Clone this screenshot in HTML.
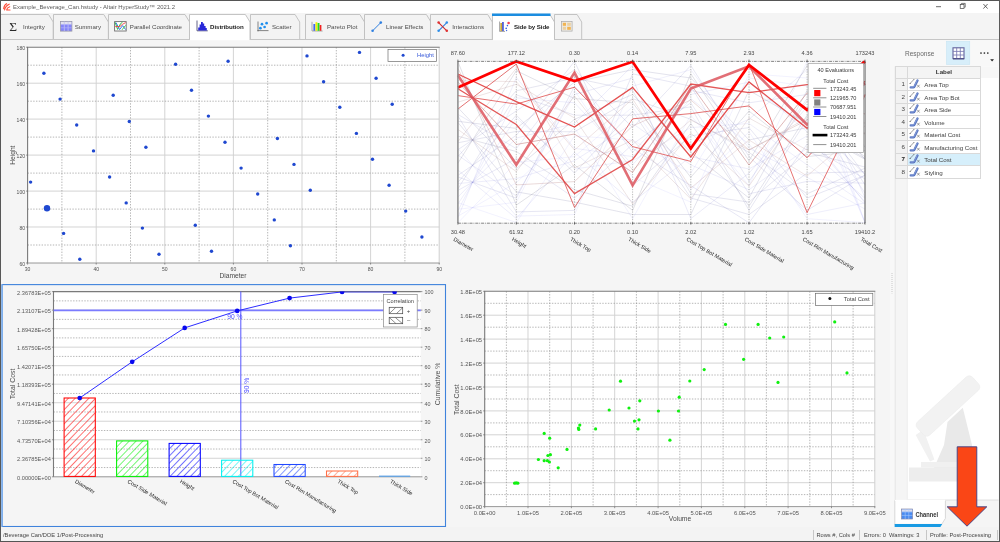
<!DOCTYPE html>
<html lang="en"><head><meta charset="utf-8">
<title>Example_Beverage_Can.hstudy - Altair HyperStudy 2021.2</title>
<style>
html,body{margin:0;padding:0;}
body{width:1000px;height:542px;overflow:hidden;background:#f5f5f5;font-family:"Liberation Sans","DejaVu Sans",sans-serif;font-size:6px;color:#3c3c3c;position:relative;}
.abs{position:absolute;}
#win{position:absolute;left:0;top:0;width:1000px;height:542px;overflow:hidden;background:#f5f5f5;will-change:transform;}
#titlebar{position:absolute;left:0;top:0;width:1000px;height:13px;background:#fff;}
#titlebar .ttl{position:absolute;left:13px;top:3px;font-size:5.95px;line-height:8px;color:#5c5c5c;white-space:nowrap;}
#tabbar{position:absolute;left:0;top:13px;width:1000px;height:26px;background:#f4f4f4;border-bottom:1px solid #c6c6c6;}
.tab{position:absolute;top:1px;height:25px;box-sizing:border-box;}
.tab svg.shape{position:absolute;left:-0.5px;top:0;}
.tab .lbl{position:absolute;top:8.8px;font-size:6.15px;line-height:8px;color:#4c4c4c;white-space:nowrap;}
.tab.act .lbl{font-weight:bold;color:#222;letter-spacing:-0.08px;}
.tab .ico{position:absolute;}
#status{position:absolute;left:0;top:527.4px;width:1000px;height:14.6px;background:#f3f3f3;box-sizing:border-box;}
#status span{position:absolute;top:3.3px;font-size:5.72px;line-height:8px;color:#444;white-space:nowrap;}
#status i{position:absolute;top:2.4px;width:1px;height:10.4px;background:#c6c6c6;}

svg text{font-family:"Liberation Sans","DejaVu Sans",sans-serif;}
#rpanel{position:absolute;left:893px;top:40px;width:107px;height:487px;}
table.resp{position:absolute;left:2px;top:26px;border-collapse:collapse;table-layout:fixed;width:86.1px;font-size:6.22px;color:#3a3a3a;}
table.resp td,table.resp th{border:1px solid #d9d9d9;height:11.5px;padding:0;line-height:8px;white-space:nowrap;overflow:visible;}
table.resp th{height:10.6px;}
table.resp th{background:#f4f4f4;font-weight:bold;color:#333;}
table.resp td.n{width:8.9px;text-align:right;padding-right:2px;background:#f2f2f2;color:#444;}
table.resp td.l{width:73.2px;text-align:left;background:#fff;position:relative;}
table.resp tr.sel td.l{background:#d6effb;}
table.resp tr.sel td.n{font-weight:bold;color:#222;}
table.resp td.l span{position:absolute;left:16.4px;top:2.5px;letter-spacing:-0.05px;color:#444;}
table.resp td.l svg{position:absolute;left:1.3px;top:0.6px;}
</style></head><body><div id="win">

<div id="titlebar">
<svg class="abs" style="left:2.6px;top:2.8px" width="8" height="8" viewBox="0 0 8 8"><path d="M0.7 5.6 C1.0 3.0 2.0 1.4 3.6 0.7 M1.6 7.0 C2.0 4.4 3.4 2.4 6.2 1.2 M3.6 7.0 C3.8 5.6 4.8 4.4 6.8 3.8 M4.4 7.0 H7.0" stroke="#ff4a36" stroke-width="1.15" fill="none" stroke-linecap="round"/></svg>
<div class="ttl">Example_Beverage_Can.hstudy - Altair HyperStudy&#8482; 2021.2</div>
<svg class="abs" style="left:925px;top:0" width="75" height="13" viewBox="0 0 75 13"><path d="M11 6.7 H16" stroke="#444" stroke-width="0.8"/><rect x="35.2" y="4.6" width="3.8" height="3.8" fill="none" stroke="#444" stroke-width="0.7"/><path d="M36.4 4.4 V3.4 H40.2 V7.2 H39.2" fill="none" stroke="#444" stroke-width="0.7"/><path d="M58.4 4 L62.6 8.6 M62.6 4 L58.4 8.6" stroke="#444" stroke-width="0.8"/></svg>
</div>
<div id="tabbar">
<div class="tab" style="left:0.8px;width:52.7px"><svg class="shape" width="54.7" height="26" viewBox="0 0 54.7 26" style="overflow:visible"><path d="M0.5 25 V0.5 H48.6 L53.2 8.0 V25 Z" fill="#f3f3f3" stroke="none"/><path d="M0.5 25 V0.5 H48.6 L53.2 8.0 V25" fill="none" stroke="#bdbdbd" stroke-width="0.9"/></svg><svg class="ico" style="left:8px;top:6.2px" width="11" height="13" viewBox="0 0 11 13"><text x="0.2" y="11" font-size="13.4" style="font-family:'Liberation Serif','DejaVu Serif',serif" fill="#2a2a2a">&#931;</text></svg>
<div class="lbl" style="left:22.2px">Integrity</div>
</div>
<div class="tab" style="left:53.5px;width:54.9px"><svg class="shape" width="56.9" height="26" viewBox="0 0 56.9 26" style="overflow:visible"><path d="M0.5 25 V0.5 H50.8 L55.4 8.0 V25 Z" fill="#f3f3f3" stroke="none"/><path d="M0.5 25 V0.5 H50.8 L55.4 8.0 V25" fill="none" stroke="#bdbdbd" stroke-width="0.9"/></svg><svg class="ico" style="left:6.4px;top:7.4px" width="13" height="11" viewBox="0 0 13 11"><rect x="0.5" y="0.5" width="11.4" height="9.6" fill="#8484fa" stroke="#9a9aa6" stroke-width="0.8"/><rect x="0.9" y="0.9" width="10.6" height="2.5" fill="#e2e2ee"/><path d="M4.3 0.6 V10 M8.1 0.6 V10" stroke="#c4c4f0" stroke-width="0.8"/><path d="M0.8 3.6 H11.6 M0.8 6.8 H11.6" stroke="#b4b4fa" stroke-width="0.7"/></svg>
<div class="lbl" style="left:21.2px">Summary</div>
</div>
<div class="tab" style="left:108.4px;width:81.1px"><svg class="shape" width="83.1" height="26" viewBox="0 0 83.1 26" style="overflow:visible"><path d="M0.5 25 V0.5 H77.0 L81.6 8.0 V25 Z" fill="#f3f3f3" stroke="none"/><path d="M0.5 25 V0.5 H77.0 L81.6 8.0 V25" fill="none" stroke="#bdbdbd" stroke-width="0.9"/></svg><svg class="ico" style="left:6px;top:6.8px" width="13" height="11" viewBox="0 0 13 11"><rect x="0.6" y="0.6" width="11.6" height="9.4" fill="#fff" stroke="#6e6e6e" stroke-width="0.9"/><path d="M1.2 1.4 L3.6 8.4 L6.6 2.6 L8.4 1.4" stroke="#30c040" stroke-width="1" fill="none"/><path d="M2 1.6 L5.6 8.6 L8.6 4.6 L11.6 8.6" stroke="#3a78e8" stroke-width="1" fill="none"/><path d="M1.2 5.6 H5.8 L8.4 3.4 L11.6 1.6" stroke="#f04040" stroke-width="0.9" fill="none"/><path d="M8 8.8 L11.6 4.4" stroke="#30c040" stroke-width="0.9" fill="none"/></svg>
<div class="lbl" style="left:21.4px">Parallel Coordinate</div>
</div>
<div class="tab act" style="left:189.5px;width:60.5px"><svg class="shape" width="62.5" height="26" viewBox="0 0 62.5 26" style="overflow:visible"><path d="M0.5 25 V0.5 H56.4 L61.0 8.0 V25 Z" fill="#ffffff" stroke="none"/><path d="M0.5 25 V0.5 H56.4 L61.0 8.0 V25" fill="none" stroke="#bdbdbd" stroke-width="0.9"/><path d="M1 25.5 H60.5" stroke="#ffffff" stroke-width="1.4"/></svg><svg class="ico" style="left:6px;top:6px" width="12" height="12" viewBox="0 0 12 12"><path d="M1 0.5 V10.8 H11.8" stroke="#3a3a6a" stroke-width="0.8" fill="none"/><path d="M2.2 10.4 V7.4 H3.6 V4.6 H5 V2 H6.8 V3.6 H8.2 V6 H9.6 V8 H10.8 V10.4 Z" fill="#2828d8"/></svg>
<div class="lbl" style="left:20.6px">Distribution</div>
</div>
<div class="tab" style="left:250.0px;width:49.2px"><svg class="shape" width="51.2" height="26" viewBox="0 0 51.2 26" style="overflow:visible"><path d="M0.5 25 V0.5 H45.1 L49.7 8.0 V25 Z" fill="#f3f3f3" stroke="none"/><path d="M0.5 25 V0.5 H45.1 L49.7 8.0 V25" fill="none" stroke="#bdbdbd" stroke-width="0.9"/></svg><svg class="ico" style="left:7px;top:6.5px" width="12" height="11" viewBox="0 0 12 11"><path d="M1 0.5 V10.4 M0.4 9.6 H11.5" stroke="#555" stroke-width="0.7" fill="none"/><circle cx="3.4" cy="7.2" r="1.35" fill="#1f8fee"/><circle cx="5" cy="3.2" r="1.35" fill="#1f8fee"/><circle cx="7.6" cy="6" r="1.35" fill="#1f8fee"/><circle cx="9.6" cy="2.2" r="1.35" fill="#1f8fee"/></svg>
<div class="lbl" style="left:22.0px">Scatter</div>
</div>
<div class="tab" style="left:305.2px;width:59.0px"><svg class="shape" width="61.0" height="26" viewBox="0 0 61.0 26" style="overflow:visible"><path d="M0.5 25 V0.5 H54.9 L59.5 8.0 V25 Z" fill="#f3f3f3" stroke="none"/><path d="M0.5 25 V0.5 H54.9 L59.5 8.0 V25" fill="none" stroke="#bdbdbd" stroke-width="0.9"/></svg><svg class="ico" style="left:6px;top:6.5px" width="13" height="11" viewBox="0 0 13 11"><path d="M1 0.8 V10 H11.6" stroke="#8a8a8a" stroke-width="0.7" fill="none"/><rect x="2.4" y="3" width="1.9" height="6.8" fill="#4466f0"/><rect x="4.5" y="1.2" width="1.9" height="8.6" fill="#f2f000"/><rect x="6.6" y="2" width="1.9" height="7.8" fill="#22dd22"/><rect x="8.7" y="4" width="1.7" height="5.8" fill="#f02222"/></svg>
<div class="lbl" style="left:21.8px">Pareto Plot</div>
</div>
<div class="tab" style="left:364.2px;width:66.5px"><svg class="shape" width="68.5" height="26" viewBox="0 0 68.5 26" style="overflow:visible"><path d="M0.5 25 V0.5 H62.4 L67.0 8.0 V25 Z" fill="#f3f3f3" stroke="none"/><path d="M0.5 25 V0.5 H62.4 L67.0 8.0 V25" fill="none" stroke="#bdbdbd" stroke-width="0.9"/></svg><svg class="ico" style="left:7px;top:6.5px" width="12" height="12" viewBox="0 0 12 12"><path d="M1.6 9.8 L9.8 1.6" stroke="#2f7fe0" stroke-width="1"/><circle cx="1.6" cy="9.8" r="1.3" fill="#2f7fe0"/><circle cx="9.8" cy="1.6" r="1.3" fill="#2f7fe0"/></svg>
<div class="lbl" style="left:21.8px">Linear Effects</div>
</div>
<div class="tab" style="left:430.7px;width:61.8px"><svg class="shape" width="63.8" height="26" viewBox="0 0 63.8 26" style="overflow:visible"><path d="M0.5 25 V0.5 H57.7 L62.3 8.0 V25 Z" fill="#f3f3f3" stroke="none"/><path d="M0.5 25 V0.5 H57.7 L62.3 8.0 V25" fill="none" stroke="#bdbdbd" stroke-width="0.9"/></svg><svg class="ico" style="left:6px;top:6.5px" width="12" height="12" viewBox="0 0 12 12"><path d="M1.6 9.8 L9.8 1.6" stroke="#2f7fe0" stroke-width="1.1"/><path d="M1.6 1.6 L9.8 9.8" stroke="#d02828" stroke-width="1.1"/><circle cx="1.6" cy="1.6" r="1.25" fill="#e03030"/><circle cx="9.8" cy="9.8" r="1.25" fill="#e03030"/><circle cx="1.6" cy="9.8" r="1.25" fill="#2f8fe8"/><circle cx="9.8" cy="1.6" r="1.25" fill="#2f8fe8"/></svg>
<div class="lbl" style="left:21.6px">Interactions</div>
</div>
<div class="tab act" style="left:492.5px;width:62.0px"><svg class="shape" width="64.0" height="26" viewBox="0 0 64.0 26" style="overflow:visible"><path d="M0.5 25 V0.5 H57.9 L62.5 8.0 V25 Z" fill="#ffffff" stroke="none"/><path d="M0.5 25 V0.5 H57.9 L62.5 8.0 V25" fill="none" stroke="#bdbdbd" stroke-width="0.9"/><path d="M1 25.5 H62.0" stroke="#ffffff" stroke-width="1.4"/><path d="M0 0.7 H58.5" stroke="#1b8de0" stroke-width="2.4"/></svg><svg class="ico" style="left:6.5px;top:6.5px" width="12" height="12" viewBox="0 0 12 12"><path d="M0.6 0.5 V10.4 H6" stroke="#666" stroke-width="0.6" fill="none"/><rect x="1.4" y="2" width="1.5" height="8" fill="#c8a020"/><rect x="3.2" y="1" width="1.5" height="9" fill="#3040d0"/><circle cx="7.2" cy="7.4" r="0.8" fill="#3060e0"/><circle cx="8.4" cy="4.6" r="0.8" fill="#3060e0"/><circle cx="7.6" cy="9.6" r="0.7" fill="#3060e0"/><circle cx="9.6" cy="2" r="1.3" fill="#f04050"/></svg>
<div class="lbl" style="left:21.4px">Side by Side</div>
</div>
<div class="tab" style="left:554.5px;width:27.2px"><svg class="shape" width="29.2" height="26" viewBox="0 0 29.2 26" style="overflow:visible"><path d="M0.5 25 V0.5 H23.1 L27.7 8.0 V25 Z" fill="#f3f3f3" stroke="none"/><path d="M0.5 25 V0.5 H23.1 L27.7 8.0 V25" fill="none" stroke="#bdbdbd" stroke-width="0.9"/></svg><svg class="ico" style="left:6px;top:6.5px" width="12" height="12" viewBox="0 0 12 12"><rect x="0.5" y="0.5" width="10.6" height="9.6" fill="#eeeae2" stroke="#a8a8a8" stroke-width="0.7"/><rect x="1.8" y="1.8" width="3.2" height="3" fill="#f2b450"/><rect x="6.2" y="1.8" width="3.6" height="3" fill="#ecd0a0"/><rect x="1.8" y="5.8" width="3.2" height="3" fill="#ecd0a0"/><rect x="6.2" y="5.8" width="3.6" height="3" fill="#f2b450"/></svg>
</div>
</div>
<svg class="abs" style="left:0;top:40px" width="448" height="244" viewBox="0 40 448 244">
<rect x="27.6" y="47.2" width="411.6" height="215.8" fill="#fff"/>
<path d="M96.2 47.2 V263.0 M27.6 83.2 H439.2 M164.8 47.2 V263.0 M27.6 119.1 H439.2 M233.4 47.2 V263.0 M27.6 155.1 H439.2 M302.0 47.2 V263.0 M27.6 191.1 H439.2 M370.6 47.2 V263.0 M27.6 227.0 H439.2" stroke="#d2d2d2" stroke-width="0.95" fill="none"/>
<path d="M61.9 47.2 V263.0 M27.6 65.2 H439.2 M130.5 47.2 V263.0 M27.6 101.2 H439.2 M199.1 47.2 V263.0 M27.6 137.1 H439.2 M267.7 47.2 V263.0 M27.6 173.1 H439.2 M336.3 47.2 V263.0 M27.6 209.1 H439.2 M404.9 47.2 V263.0 M27.6 245.0 H439.2" stroke="#858585" stroke-width="0.6" stroke-dasharray="1.4 1.4" fill="none"/>
<path d="M439.2 47.2 V263.0" stroke="#cfcfcf" stroke-width="1" fill="none"/>
<path d="M27.6 263.0 V47.2 H439.7" stroke="#7a7a7a" stroke-width="1.1" fill="none"/>
<path d="M27.6 263.0 H439.7" stroke="#8c8c8c" stroke-width="0.9" fill="none"/>
<path d="M26.0 47.2 H27.6 M27.6 263.0 V264.6 M26.0 83.2 H27.6 M96.2 263.0 V264.6 M26.0 119.1 H27.6 M164.8 263.0 V264.6 M26.0 155.1 H27.6 M233.4 263.0 V264.6 M26.0 191.1 H27.6 M302.0 263.0 V264.6 M26.0 227.0 H27.6 M370.6 263.0 V264.6 M26.0 263.0 H27.6 M439.2 263.0 V264.6" stroke="#555" stroke-width="0.6" fill="none"/>
<g font-size="5.05" fill="#505050">
<text x="25.0" y="49.7" text-anchor="end">180</text>
<text x="25.0" y="85.7" text-anchor="end">160</text>
<text x="25.0" y="121.6" text-anchor="end">140</text>
<text x="25.0" y="157.6" text-anchor="end">120</text>
<text x="25.0" y="193.6" text-anchor="end">100</text>
<text x="25.0" y="229.5" text-anchor="end">80</text>
<text x="25.0" y="265.5" text-anchor="end">60</text>
<text x="27.6" y="270.6" text-anchor="middle">30</text>
<text x="96.2" y="270.6" text-anchor="middle">40</text>
<text x="164.8" y="270.6" text-anchor="middle">50</text>
<text x="233.4" y="270.6" text-anchor="middle">60</text>
<text x="302.0" y="270.6" text-anchor="middle">70</text>
<text x="370.6" y="270.6" text-anchor="middle">80</text>
<text x="439.2" y="270.6" text-anchor="middle">90</text>
</g>
<text x="233" y="278" font-size="6.7" fill="#4a4a4a" text-anchor="middle">Diameter</text>
<text transform="translate(14.8 155.2) rotate(-90)" font-size="6.7" fill="#4a4a4a" text-anchor="middle">Height</text>
<g fill="#1f48d0">
<circle cx="43.9" cy="73.2" r="1.7"/>
<circle cx="60.1" cy="99.1" r="1.7"/>
<circle cx="76.7" cy="125.0" r="1.7"/>
<circle cx="93.5" cy="150.9" r="1.7"/>
<circle cx="113.2" cy="95.3" r="1.7"/>
<circle cx="129.3" cy="121.5" r="1.7"/>
<circle cx="145.9" cy="147.3" r="1.7"/>
<circle cx="175.6" cy="64.3" r="1.7"/>
<circle cx="191.5" cy="90.2" r="1.7"/>
<circle cx="208.4" cy="116.1" r="1.7"/>
<circle cx="225.0" cy="142.3" r="1.7"/>
<circle cx="228.1" cy="61.2" r="1.7"/>
<circle cx="30.6" cy="182.1" r="1.7"/>
<circle cx="63.6" cy="233.4" r="1.7"/>
<circle cx="79.8" cy="259.3" r="1.7"/>
<circle cx="109.6" cy="177.0" r="1.7"/>
<circle cx="126.2" cy="202.9" r="1.7"/>
<circle cx="142.4" cy="228.1" r="1.7"/>
<circle cx="159.0" cy="254.2" r="1.7"/>
<circle cx="195.3" cy="225.3" r="1.7"/>
<circle cx="211.5" cy="251.2" r="1.7"/>
<circle cx="241.1" cy="168.1" r="1.7"/>
<circle cx="257.7" cy="194.0" r="1.7"/>
<circle cx="274.3" cy="219.9" r="1.7"/>
<circle cx="290.4" cy="245.8" r="1.7"/>
<circle cx="294.0" cy="164.4" r="1.7"/>
<circle cx="310.3" cy="190.3" r="1.7"/>
<circle cx="277.4" cy="138.5" r="1.7"/>
<circle cx="307.0" cy="55.9" r="1.7"/>
<circle cx="323.6" cy="81.8" r="1.7"/>
<circle cx="339.8" cy="107.3" r="1.7"/>
<circle cx="356.4" cy="133.4" r="1.7"/>
<circle cx="372.5" cy="159.2" r="1.7"/>
<circle cx="359.5" cy="52.4" r="1.7"/>
<circle cx="376.1" cy="78.3" r="1.7"/>
<circle cx="392.2" cy="104.2" r="1.7"/>
<circle cx="405.7" cy="211.1" r="1.7"/>
<circle cx="389.1" cy="185.2" r="1.7"/>
<circle cx="421.9" cy="237.0" r="1.7"/>
<circle cx="47.0" cy="208.2" r="3.2"/>
</g>
<rect x="388" y="49.4" width="48.6" height="12" fill="#fff" stroke="#6e6e6e" stroke-width="0.7"/>
<circle cx="403.1" cy="55.2" r="1.5" fill="#1f48d0"/>
<text x="433.8" y="57.3" font-size="5.8" fill="#3456d8" text-anchor="end">Height</text>
</svg>
<svg class="abs" style="left:448px;top:40px" width="440" height="244" viewBox="448 40 440 244">
<rect x="457.9" y="61.4" width="407.1" height="161.4" fill="#fff"/>
<g>
<polyline points="457.9,202.7 516.3,222.5 574.5,135.9 632.6,140.0 690.8,173.1 749.0,78.0 807.1,86.2 865.0,222.7" fill="none" stroke="#4646eb" stroke-width="0.50" stroke-opacity="0.14"/>
<polyline points="457.9,209.3 516.3,202.3 574.5,90.4 632.6,177.3 690.8,202.1 749.0,73.8 807.1,78.0 865.0,222.4" fill="none" stroke="#4646ea" stroke-width="0.50" stroke-opacity="0.14"/>
<polyline points="457.9,222.8 516.3,162.4 574.5,156.6 632.6,106.9 690.8,189.7 749.0,131.8 807.1,218.7 865.0,222.6" fill="none" stroke="#4646eb" stroke-width="0.50" stroke-opacity="0.14"/>
<polyline points="457.9,216.2 516.3,182.7 574.5,127.6 632.6,218.7 690.8,115.2 749.0,185.6 807.1,61.4 865.0,222.6" fill="none" stroke="#4646eb" stroke-width="0.50" stroke-opacity="0.14"/>
<polyline points="457.9,170.0 516.3,218.5 574.5,152.4 632.6,202.1 690.8,156.6 749.0,169.0 807.1,135.9 865.0,201.9" fill="none" stroke="#5353d1" stroke-width="0.55" stroke-opacity="0.19"/>
<polyline points="457.9,217.4 516.3,77.6 574.5,148.3 632.6,156.6 690.8,94.5 749.0,82.1 807.1,131.8 865.0,202.9" fill="none" stroke="#5252d2" stroke-width="0.54" stroke-opacity="0.19"/>
<polyline points="457.9,176.9 516.3,198.2 574.5,86.2 632.6,148.3 690.8,185.6 749.0,222.8 807.1,144.2 865.0,179.0" fill="none" stroke="#6161b5" stroke-width="0.60" stroke-opacity="0.25"/>
<polyline points="457.9,210.8 516.3,97.8 574.5,102.8 632.6,164.9 690.8,98.6 749.0,144.2 807.1,214.5 865.0,202.9" fill="none" stroke="#5252d2" stroke-width="0.54" stroke-opacity="0.19"/>
<polyline points="457.9,183.5 516.3,178.6 574.5,160.7 632.6,123.5 690.8,164.9 749.0,189.7 807.1,148.3 865.0,198.3" fill="none" stroke="#5555cd" stroke-width="0.55" stroke-opacity="0.20"/>
<polyline points="457.9,203.9 516.3,117.9 574.5,169.0 632.6,160.7 690.8,127.6 749.0,123.5 807.1,164.9 865.0,204.0" fill="none" stroke="#5252d4" stroke-width="0.54" stroke-opacity="0.18"/>
<polyline points="457.9,190.4 516.3,158.4 574.5,198.0 632.6,144.2 690.8,102.8 749.0,193.8 807.1,181.4 865.0,183.2" fill="none" stroke="#5f5fba" stroke-width="0.59" stroke-opacity="0.24"/>
<polyline points="457.9,197.0 516.3,138.1 574.5,123.5 632.6,65.5 690.8,144.2 749.0,119.3 807.1,69.7 865.0,197.6" fill="none" stroke="#5656cc" stroke-width="0.55" stroke-opacity="0.20"/>
<polyline points="457.9,148.4 516.3,216.1 574.5,214.5 632.6,86.2 690.8,69.7 749.0,148.3 807.1,177.3 865.0,209.1" fill="none" stroke="#4e4eda" stroke-width="0.53" stroke-opacity="0.17"/>
<polyline points="457.9,155.1 516.3,196.0 574.5,94.5 632.6,78.0 690.8,218.7 749.0,173.1 807.1,106.9 865.0,193.0" fill="none" stroke="#5858c6" stroke-width="0.56" stroke-opacity="0.21"/>
<polyline points="457.9,188.9 516.3,94.8 574.5,115.2 632.6,115.2 690.8,106.9 749.0,210.4 807.1,119.3 865.0,174.2" fill="none" stroke="#6464af" stroke-width="0.61" stroke-opacity="0.26"/>
<polyline points="457.9,175.4 516.3,135.3 574.5,61.4 632.6,185.6 690.8,135.9 749.0,127.6 807.1,198.0 865.0,175.4" fill="none" stroke="#6363b0" stroke-width="0.60" stroke-opacity="0.26"/>
<polyline points="457.9,182.3 516.3,115.2 574.5,173.1 632.6,111.1 690.8,198.0 749.0,214.5 807.1,173.1 865.0,171.7" fill="none" stroke="#6666ac" stroke-width="0.61" stroke-opacity="0.27"/>
<polyline points="457.9,115.9 516.3,211.9 574.5,210.4 632.6,73.8 690.8,86.2 749.0,181.4 807.1,98.6 865.0,175.0" fill="none" stroke="#6464b0" stroke-width="0.60" stroke-opacity="0.26"/>
<polyline points="457.9,122.5 516.3,191.8 574.5,202.1 632.6,214.5 690.8,214.5 749.0,90.4 807.1,123.5 865.0,158.4" fill="none" stroke="#6e6e9b" stroke-width="0.64" stroke-opacity="0.30"/>
<polyline points="457.9,136.2 516.3,151.5 574.5,189.7 632.6,206.2 690.8,123.5 749.0,206.2 807.1,115.2 865.0,156.7" fill="none" stroke="#6f6f99" stroke-width="0.64" stroke-opacity="0.31"/>
<polyline points="457.9,142.8 516.3,131.4 574.5,131.8 632.6,98.6 690.8,119.3 749.0,152.4 807.1,193.8 865.0,168.2" fill="none" stroke="#6868a7" stroke-width="0.62" stroke-opacity="0.28"/>
<polyline points="457.9,149.7 516.3,111.0 574.5,69.7 632.6,127.6 690.8,65.5 749.0,156.6 807.1,210.4 865.0,175.0" fill="none" stroke="#6464b0" stroke-width="0.60" stroke-opacity="0.26"/>
<polyline points="457.9,156.6 516.3,90.8 574.5,78.0 632.6,90.4 690.8,193.8 749.0,202.1 807.1,152.4 865.0,167.0" fill="none" stroke="#6969a6" stroke-width="0.62" stroke-opacity="0.28"/>
<polyline points="457.9,163.2 516.3,70.7 574.5,98.6 632.6,102.8 690.8,177.3 749.0,111.1 807.1,156.6 865.0,150.4" fill="none" stroke="#737391" stroke-width="0.66" stroke-opacity="0.32"/>
<polyline points="457.9,107.7 516.3,168.7 574.5,119.3 632.6,94.5 690.8,152.4 749.0,198.0 807.1,90.4 865.0,159.3" fill="none" stroke="#6d6d9c" stroke-width="0.64" stroke-opacity="0.30"/>
<polyline points="457.9,114.4 516.3,148.6 574.5,73.8 632.6,152.4 690.8,90.4 749.0,102.8 807.1,94.5 865.0,184.9" fill="none" stroke="#5d5dbc" stroke-width="0.58" stroke-opacity="0.23"/>
<polyline points="457.9,121.3 516.3,128.4 574.5,82.1 632.6,69.7 690.8,78.0 749.0,140.0 807.1,127.6 865.0,159.3" fill="none" stroke="#6d6d9c" stroke-width="0.64" stroke-opacity="0.30"/>
<polyline points="457.9,61.7 516.3,205.1 574.5,164.9 632.6,210.4 690.8,73.8 749.0,160.7 807.1,65.5 865.0,147.2" fill="none" stroke="#75758d" stroke-width="0.66" stroke-opacity="0.33"/>
</g>
<path d="M516.3 61.4 V222.8 M574.5 61.4 V222.8 M632.6 61.4 V222.8 M690.8 61.4 V222.8 M749.0 61.4 V222.8 M807.1 61.4 V222.8" stroke="#7a7a7a" stroke-width="0.5" stroke-dasharray="1.3 1.2" fill="none"/>
<g>
<polyline points="457.9,129.4 516.3,171.6 574.5,96.0 632.6,170.0 690.8,120.0 749.0,150.0 807.1,118.0 865.0,133.2" fill="none" stroke="#b89090" stroke-width="0.6" stroke-opacity="0.42" stroke-linejoin="miter"/>
<polyline points="457.9,141.6 516.3,68.3 574.5,168.0 632.6,140.0 690.8,199.0 749.0,118.0 807.1,150.0 865.0,133.0" fill="none" stroke="#b89090" stroke-width="0.6" stroke-opacity="0.42" stroke-linejoin="miter"/>
<polyline points="457.9,68.4 516.3,184.9 574.5,181.6 632.6,126.0 690.8,100.0 749.0,150.0 807.1,120.0 865.0,123.0" fill="none" stroke="#b88484" stroke-width="0.6" stroke-opacity="0.5" stroke-linejoin="miter"/>
<polyline points="457.9,102.2 516.3,84.3 574.5,118.0 632.6,204.0 690.8,133.0 749.0,186.0 807.1,101.0 865.0,134.2" fill="none" stroke="#b89090" stroke-width="0.6" stroke-opacity="0.42" stroke-linejoin="miter"/>
<polyline points="457.9,80.6 516.3,81.6 574.5,150.0 632.6,99.0 690.8,188.0 749.0,140.0 807.1,176.0 865.0,125.9" fill="none" stroke="#c09090" stroke-width="0.6" stroke-opacity="0.42" stroke-linejoin="miter"/>
<polyline points="457.9,82.1 516.3,144.5 574.5,134.0 632.6,172.4 690.8,84.4 749.0,165.0 807.1,93.0 865.0,114.0" fill="none" stroke="#b86464" stroke-width="0.65" stroke-opacity="0.7" stroke-linejoin="miter"/>
<polyline points="457.9,95.6 516.3,104.1 574.5,87.2 632.6,146.6 690.8,161.4 749.0,63.5 807.1,212.6 865.0,95.3" fill="none" stroke="#dc3a3a" stroke-width="0.85" stroke-opacity="0.85" stroke-linejoin="miter"/>
<polyline points="457.9,109.1 516.3,64.1 574.5,207.4 632.6,118.8 690.8,113.6 749.0,105.9 807.1,157.7 865.0,94.4" fill="none" stroke="#d83a3a" stroke-width="0.85" stroke-opacity="0.85" stroke-linejoin="miter"/>
<polyline points="457.9,88.7 516.3,124.5 574.5,193.6 632.6,159.5 690.8,84.0 749.0,92.6 807.1,84.6 865.0,83.3" fill="none" stroke="#de3c3c" stroke-width="1.3" stroke-opacity="0.86" stroke-linejoin="miter"/>
<polyline points="457.9,74.0 516.3,101.7 574.5,127.0 632.6,87.4 690.8,157.0 749.0,81.9 807.1,128.3 865.0,81.2" fill="none" stroke="#e03838" stroke-width="1.3" stroke-opacity="0.88" stroke-linejoin="miter"/>
<polyline points="457.9,75.3 516.3,164.8 574.5,72.6 632.6,185.4 690.8,88.6 749.0,66.2 807.1,124.7 865.0,83.3" fill="none" stroke="#dc545c" stroke-width="2.65" stroke-opacity="0.84" stroke-linejoin="miter"/>
<polyline points="457.9,87.4 516.3,61.4 574.5,81.0 632.6,61.8 690.8,148.6 749.0,64.9 807.1,109.9 865.0,61.4" fill="none" stroke="#ff0000" stroke-width="2.75" stroke-opacity="1.0" stroke-linejoin="miter"/>
</g>
<path d="M457.9 61.4 V222.8" stroke="#8a8a8a" stroke-width="1.5" fill="none"/>
<path d="M865.0 61.4 V222.8" stroke="#555" stroke-width="1" fill="none"/>
<path d="M457.9 61.4 H865.0 M457.9 223.20000000000002 H865.0" stroke="#555" stroke-width="0.7" stroke-dasharray="3 1 0.8 1" fill="none"/>
<path d="M457.9 59.6 V61.9 M457.9 222.3 V224.60000000000002 M516.3 59.6 V61.9 M516.3 222.3 V224.60000000000002 M574.5 59.6 V61.9 M574.5 222.3 V224.60000000000002 M632.6 59.6 V61.9 M632.6 222.3 V224.60000000000002 M690.8 59.6 V61.9 M690.8 222.3 V224.60000000000002 M749.0 59.6 V61.9 M749.0 222.3 V224.60000000000002 M807.1 59.6 V61.9 M807.1 222.3 V224.60000000000002 M865.0 59.6 V61.9 M865.0 222.3 V224.60000000000002" stroke="#444" stroke-width="0.7" fill="none"/>
<g font-size="5.65" fill="#444" text-anchor="middle">
<text x="457.9" y="54.8">87.60</text>
<text x="457.9" y="233.5">30.48</text>
<text x="516.3" y="54.8">177.12</text>
<text x="516.3" y="233.5">61.92</text>
<text x="574.5" y="54.8">0.30</text>
<text x="574.5" y="233.5">0.20</text>
<text x="632.6" y="54.8">0.14</text>
<text x="632.6" y="233.5">0.10</text>
<text x="690.8" y="54.8">7.95</text>
<text x="690.8" y="233.5">2.02</text>
<text x="749.0" y="54.8">2.93</text>
<text x="749.0" y="233.5">1.02</text>
<text x="807.1" y="54.8">4.36</text>
<text x="807.1" y="233.5">1.65</text>
<text x="865.0" y="54.8">173243</text>
<text x="865.0" y="233.5">19410.2</text>
</g>
<g font-size="5.45" fill="#222">
<text transform="translate(453.1 240.3) rotate(30.5)">Diameter</text>
<text transform="translate(511.5 240.3) rotate(30.5)">Height</text>
<text transform="translate(569.7 240.3) rotate(30.5)">Thick Top</text>
<text transform="translate(627.8 240.3) rotate(30.5)">Thick Side</text>
<text transform="translate(686.0 240.3) rotate(30.5)">Cost Top Bot Material</text>
<text transform="translate(744.2 240.3) rotate(30.5)">Cost Side Material</text>
<text transform="translate(802.3 240.3) rotate(30.5)">Cost Rim Manufacturing</text>
<text transform="translate(860.2 240.3) rotate(30.5)">Total Cost</text>
</g>

<rect x="808.1" y="63.3" width="55.4" height="89.3" fill="#fff" stroke="#9a9a9a" stroke-width="0.7"/>
<g font-size="5.6" fill="#3a3a3a">
<text x="835.8" y="71.9" text-anchor="middle">40 Evaluations</text>
<text x="835.8" y="82.5" text-anchor="middle">Total Cost</text>
<text x="835.8" y="128.7" text-anchor="middle">Total Cost</text>
<text x="830" y="90.6">173243.45</text>
<text x="830" y="100.1">121965.70</text>
<text x="830" y="109.3">70687.951</text>
<text x="830" y="118.7">19410.201</text>
<text x="830" y="137.0">173243.45</text>
<text x="830" y="146.5">19410.201</text>
</g>
<path d="M813.2 88.3 H826.4 M813.2 97.8 H826.4 M813.2 107 H826.4 M813.2 116.5 H826.4" stroke="#333" stroke-width="0.55"/>
<rect x="814.2" y="90" width="6.2" height="6.2" fill="#ff0000"/>
<rect x="814.2" y="99.4" width="6.2" height="6.2" fill="#808080"/>
<rect x="814.2" y="108.9" width="6.2" height="6.2" fill="#0000ff"/>
<path d="M812.6 135.1 H827.4" stroke="#000" stroke-width="2.6"/>
<path d="M813.2 144.6 H826.4" stroke="#333" stroke-width="0.55"/>
</svg>
<svg class="abs" style="left:0;top:284px" width="450" height="243" viewBox="0 284 450 243">
<defs>
<pattern id="h0" width="4.9" height="4.9" patternUnits="userSpaceOnUse" patternTransform="rotate(-46)"><path d="M0 2.45 H4.9" stroke="#ff0000" stroke-width="0.55"/></pattern>
<pattern id="h1" width="4.9" height="4.9" patternUnits="userSpaceOnUse" patternTransform="rotate(-46)"><path d="M0 2.45 H4.9" stroke="#00f000" stroke-width="0.55"/></pattern>
<pattern id="h2" width="4.9" height="4.9" patternUnits="userSpaceOnUse" patternTransform="rotate(-46)"><path d="M0 2.45 H4.9" stroke="#0000ff" stroke-width="0.55"/></pattern>
<pattern id="h3" width="4.9" height="4.9" patternUnits="userSpaceOnUse" patternTransform="rotate(-46)"><path d="M0 2.45 H4.9" stroke="#00f0f0" stroke-width="0.55"/></pattern>
<pattern id="h4" width="4.9" height="4.9" patternUnits="userSpaceOnUse" patternTransform="rotate(-46)"><path d="M0 2.45 H4.9" stroke="#2048ff" stroke-width="0.55"/></pattern>
<pattern id="h5" width="4.9" height="4.9" patternUnits="userSpaceOnUse" patternTransform="rotate(-46)"><path d="M0 2.45 H4.9" stroke="#ff7048" stroke-width="0.55"/></pattern>
<pattern id="h6" width="4.9" height="4.9" patternUnits="userSpaceOnUse" patternTransform="rotate(-46)"><path d="M0 2.45 H4.9" stroke="#58a0e8" stroke-width="0.55"/></pattern>
<clipPath id="pc"><rect x="53.5" y="291.6" width="367.3" height="188.2"/></clipPath>
</defs>
<rect x="2.1" y="284.6" width="443.4" height="241.9" fill="#f5f5f5" stroke="#3f83dc" stroke-width="1.1"/>
<path d="M2.1 284.6 V526.5" stroke="#7fb0ee" stroke-width="1.3" fill="none"/>
<rect x="53.5" y="291.6" width="367.3" height="185.2" fill="#fff"/>
<path d="M53.5 310.12 H420.8 M53.5 328.64 H420.8 M53.5 347.16 H420.8 M53.5 365.68 H420.8 M53.5 384.20 H420.8 M53.5 402.72 H420.8 M53.5 421.24 H420.8 M53.5 439.76 H420.8 M53.5 458.28 H420.8" stroke="#d2d2d2" stroke-width="0.95" fill="none"/>
<path d="M53.5 300.86 H420.8 M53.5 319.38 H420.8 M53.5 337.90 H420.8 M53.5 356.42 H420.8 M53.5 374.94 H420.8 M53.5 393.46 H420.8 M53.5 411.98 H420.8 M53.5 430.50 H420.8 M53.5 449.02 H420.8 M53.5 467.54 H420.8" stroke="#858585" stroke-width="0.6" stroke-dasharray="1.4 1.4" fill="none"/>
<path d="M53.5 476.8 V291.6 H420.8" stroke="#7a7a7a" stroke-width="1.1" fill="none"/>
<path d="M53.5 476.8 H420.8" stroke="#8a8a8a" stroke-width="0.9" fill="none"/>
<path d="M51.9 291.60 H53.5 M420.8 291.60 H422.40000000000003 M51.9 310.12 H53.5 M420.8 310.12 H422.40000000000003 M51.9 328.64 H53.5 M420.8 328.64 H422.40000000000003 M51.9 347.16 H53.5 M420.8 347.16 H422.40000000000003 M51.9 365.68 H53.5 M420.8 365.68 H422.40000000000003 M51.9 384.20 H53.5 M420.8 384.20 H422.40000000000003 M51.9 402.72 H53.5 M420.8 402.72 H422.40000000000003 M51.9 421.24 H53.5 M420.8 421.24 H422.40000000000003 M51.9 439.76 H53.5 M420.8 439.76 H422.40000000000003 M51.9 458.28 H53.5 M420.8 458.28 H422.40000000000003 M51.9 476.80 H53.5 M420.8 476.80 H422.40000000000003" stroke="#555" stroke-width="0.6" fill="none"/>
<path d="M53.5 310.3 H420.8" stroke="#7b7bff" stroke-width="1.7" fill="none"/>
<path d="M240.8 291.6 V476.8" stroke="#5c5cff" stroke-width="1.05" fill="none"/>
<rect x="64.1" y="398.0" width="31.2" height="78.4" fill="url(#h0)" stroke="#ff0000" stroke-width="1.05"/>
<rect x="116.6" y="440.9" width="31.2" height="35.5" fill="url(#h1)" stroke="#00f000" stroke-width="1.05"/>
<rect x="169.1" y="443.4" width="31.2" height="33.0" fill="url(#h2)" stroke="#0000ff" stroke-width="1.05"/>
<rect x="221.6" y="460.2" width="31.2" height="16.2" fill="url(#h3)" stroke="#00f0f0" stroke-width="1.05"/>
<rect x="274.0" y="464.5" width="31.2" height="11.9" fill="url(#h4)" stroke="#2048ff" stroke-width="1.05"/>
<rect x="326.5" y="471.0" width="31.2" height="5.4" fill="url(#h5)" stroke="#ff7048" stroke-width="1.05"/>
<path d="M379.0 476.2 H410.2" stroke="#58a0e8" stroke-width="1.2"/>
<g clip-path="url(#pc)">
<polyline points="79.7,398.0 132.2,361.8 184.7,327.9 237.2,310.9 289.6,298.1 342.1,291.9 394.6,291.9" fill="none" stroke="#2222ff" stroke-width="0.95"/>
<circle cx="79.7" cy="398.0" r="2.35" fill="#0808f0"/>
<circle cx="132.2" cy="361.8" r="2.35" fill="#0808f0"/>
<circle cx="184.7" cy="327.9" r="2.35" fill="#0808f0"/>
<circle cx="237.2" cy="310.9" r="2.35" fill="#0808f0"/>
<circle cx="289.6" cy="298.1" r="2.35" fill="#0808f0"/>
<circle cx="342.1" cy="291.9" r="2.35" fill="#0808f0"/>
<circle cx="394.6" cy="291.9" r="2.35" fill="#0808f0"/>
</g>
<text x="227.2" y="318.9" font-size="6.7" fill="#4a4aff">90 %</text>
<text transform="translate(249.4 385.4) rotate(-90)" font-size="6.7" fill="#4a4aff" text-anchor="middle">90 %</text>
<g font-size="5.7" fill="#585858">
<text x="50.9" y="294.6" text-anchor="end" textLength="33.8" lengthAdjust="spacingAndGlyphs">2.36783E+05</text>
<text x="50.9" y="313.1" text-anchor="end" textLength="33.8" lengthAdjust="spacingAndGlyphs">2.13107E+05</text>
<text x="50.9" y="331.6" text-anchor="end" textLength="33.8" lengthAdjust="spacingAndGlyphs">1.89428E+05</text>
<text x="50.9" y="350.2" text-anchor="end" textLength="33.8" lengthAdjust="spacingAndGlyphs">1.65750E+05</text>
<text x="50.9" y="368.7" text-anchor="end" textLength="33.8" lengthAdjust="spacingAndGlyphs">1.42071E+05</text>
<text x="50.9" y="387.2" text-anchor="end" textLength="33.8" lengthAdjust="spacingAndGlyphs">1.18393E+05</text>
<text x="50.9" y="405.7" text-anchor="end" textLength="33.8" lengthAdjust="spacingAndGlyphs">9.47141E+04</text>
<text x="50.9" y="424.2" text-anchor="end" textLength="33.8" lengthAdjust="spacingAndGlyphs">7.10356E+04</text>
<text x="50.9" y="442.8" text-anchor="end" textLength="33.8" lengthAdjust="spacingAndGlyphs">4.73570E+04</text>
<text x="50.9" y="461.3" text-anchor="end" textLength="33.8" lengthAdjust="spacingAndGlyphs">2.36785E+04</text>
<text x="50.9" y="479.8" text-anchor="end" textLength="33.8" lengthAdjust="spacingAndGlyphs">0.00000E+00</text>
<text x="424.6" y="294.4" font-size="5.4">100</text>
<text x="424.6" y="312.9" font-size="5.4">90</text>
<text x="424.6" y="331.4" font-size="5.4">80</text>
<text x="424.6" y="350.0" font-size="5.4">70</text>
<text x="424.6" y="368.5" font-size="5.4">60</text>
<text x="424.6" y="387.0" font-size="5.4">50</text>
<text x="424.6" y="405.5" font-size="5.4">40</text>
<text x="424.6" y="424.0" font-size="5.4">30</text>
<text x="424.6" y="442.6" font-size="5.4">20</text>
<text x="424.6" y="461.1" font-size="5.4">10</text>
<text x="424.6" y="479.6" font-size="5.4">0</text>
</g>
<text transform="translate(15.2 384) rotate(-90)" font-size="6.9" fill="#505050" text-anchor="middle">Total Cost</text>
<text transform="translate(439.8 384) rotate(-90)" font-size="6.9" fill="#505050" text-anchor="middle">Cumulative %</text>
<g font-size="5.5" fill="#262626">
<text transform="translate(74.5 482.4) rotate(31)">Diameter</text>
<text transform="translate(127.0 482.4) rotate(31)">Cost Side Material</text>
<text transform="translate(179.5 482.4) rotate(31)">Height</text>
<text transform="translate(232.0 482.4) rotate(31)">Cost Top Bot Material</text>
<text transform="translate(284.4 482.4) rotate(31)">Cost Rim Manufacturing</text>
<text transform="translate(336.9 482.4) rotate(31)">Thick Top</text>
<text transform="translate(389.4 482.4) rotate(31)">Thick Side</text>
</g>
<rect x="383.4" y="294.4" width="33.8" height="32.6" fill="#fff" stroke="#8a8a8a" stroke-width="0.7"/>
<text x="400.2" y="302.6" font-size="5.6" fill="#444" text-anchor="middle">Correlation</text>
<rect x="389.2" y="307.3" width="13.5" height="6.4" fill="#fff" stroke="#444" stroke-width="0.7"/>
<path d="M389.6 313.3 L395.6 307.6 M396.6 313.4 L402.4 308" stroke="#444" stroke-width="0.6"/>
<rect x="389.2" y="317.3" width="13.5" height="6.4" fill="#fff" stroke="#444" stroke-width="0.7"/>
<path d="M389.6 317.8 L395.8 323.4 M395.4 317.6 L402.2 323.4" stroke="#444" stroke-width="0.6"/>
<text x="408.6" y="312.6" font-size="6" fill="#444" text-anchor="middle">+</text>
<text x="408.6" y="322.4" font-size="6" fill="#444" text-anchor="middle">&#8211;</text>
</svg>
<svg class="abs" style="left:448px;top:284px" width="445" height="243" viewBox="448 284 445 243">
<rect x="484.7" y="291.3" width="390.1" height="215.3" fill="#fff"/>
<path d="M528.0 291.3 V506.6 M484.7 315.2 H874.8 M571.4 291.3 V506.6 M484.7 339.1 H874.8 M614.7 291.3 V506.6 M484.7 363.1 H874.8 M658.1 291.3 V506.6 M484.7 387.0 H874.8 M701.4 291.3 V506.6 M484.7 410.9 H874.8 M744.8 291.3 V506.6 M484.7 434.8 H874.8 M788.1 291.3 V506.6 M484.7 458.8 H874.8 M831.5 291.3 V506.6 M484.7 482.7 H874.8" stroke="#d2d2d2" stroke-width="0.95" fill="none"/>
<path d="M506.4 291.3 V506.6 M484.7 303.3 H874.8 M549.7 291.3 V506.6 M484.7 327.2 H874.8 M593.1 291.3 V506.6 M484.7 351.1 H874.8 M636.4 291.3 V506.6 M484.7 375.0 H874.8 M679.8 291.3 V506.6 M484.7 399.0 H874.8 M723.1 291.3 V506.6 M484.7 422.9 H874.8 M766.4 291.3 V506.6 M484.7 446.8 H874.8 M809.8 291.3 V506.6 M484.7 470.7 H874.8 M853.1 291.3 V506.6 M484.7 494.6 H874.8" stroke="#858585" stroke-width="0.6" stroke-dasharray="1.4 1.4" fill="none"/>
<path d="M874.8 291.3 V506.6" stroke="#cfcfcf" stroke-width="1" fill="none"/>
<path d="M484.7 506.6 V291.3 H875.3" stroke="#7a7a7a" stroke-width="1.1" fill="none"/>
<path d="M484.7 506.6 H875.3" stroke="#8c8c8c" stroke-width="0.9" fill="none"/>
<path d="M483.09999999999997 291.3 H484.7 M484.7 506.6 V508.20000000000005 M483.09999999999997 315.2 H484.7 M528.0 506.6 V508.20000000000005 M483.09999999999997 339.1 H484.7 M571.4 506.6 V508.20000000000005 M483.09999999999997 363.1 H484.7 M614.7 506.6 V508.20000000000005 M483.09999999999997 387.0 H484.7 M658.1 506.6 V508.20000000000005 M483.09999999999997 410.9 H484.7 M701.4 506.6 V508.20000000000005 M483.09999999999997 434.8 H484.7 M744.8 506.6 V508.20000000000005 M483.09999999999997 458.8 H484.7 M788.1 506.6 V508.20000000000005 M483.09999999999997 482.7 H484.7 M831.5 506.6 V508.20000000000005 M483.09999999999997 506.6 H484.7 M874.8 506.6 V508.20000000000005" stroke="#555" stroke-width="0.6" fill="none"/>
<g font-size="5.8" fill="#555">
<text x="482.09999999999997" y="293.9" text-anchor="end">1.8E+05</text>
<text x="482.09999999999997" y="317.8" text-anchor="end">1.6E+05</text>
<text x="482.09999999999997" y="341.7" text-anchor="end">1.4E+05</text>
<text x="482.09999999999997" y="365.7" text-anchor="end">1.2E+05</text>
<text x="482.09999999999997" y="389.6" text-anchor="end">1.0E+05</text>
<text x="482.09999999999997" y="413.5" text-anchor="end">8.0E+04</text>
<text x="482.09999999999997" y="437.4" text-anchor="end">6.0E+04</text>
<text x="482.09999999999997" y="461.4" text-anchor="end">4.0E+04</text>
<text x="482.09999999999997" y="485.3" text-anchor="end">2.0E+04</text>
<text x="482.09999999999997" y="509.2" text-anchor="end">0.0E+00</text>
<text x="484.7" y="515.0" text-anchor="middle">0.0E+00</text>
<text x="528.0" y="515.0" text-anchor="middle">1.0E+05</text>
<text x="571.4" y="515.0" text-anchor="middle">2.0E+05</text>
<text x="614.7" y="515.0" text-anchor="middle">3.0E+05</text>
<text x="658.1" y="515.0" text-anchor="middle">4.0E+05</text>
<text x="701.4" y="515.0" text-anchor="middle">5.0E+05</text>
<text x="744.8" y="515.0" text-anchor="middle">6.0E+05</text>
<text x="788.1" y="515.0" text-anchor="middle">7.0E+05</text>
<text x="831.5" y="515.0" text-anchor="middle">8.0E+05</text>
<text x="874.8" y="515.0" text-anchor="middle">9.0E+05</text>
</g>
<text x="680" y="521.4" font-size="6.7" fill="#4a4a4a" text-anchor="middle">Volume</text>
<text transform="translate(459.4 399.6) rotate(-90)" font-size="6.9" fill="#505050" text-anchor="middle">Total Cost</text>
<g fill="#10f010">
<circle cx="514.6" cy="483.2" r="1.6"/>
<circle cx="516.2" cy="482.9" r="1.6"/>
<circle cx="517.8" cy="483.2" r="1.6"/>
<circle cx="538.4" cy="459.5" r="1.6"/>
<circle cx="544.2" cy="460.7" r="1.6"/>
<circle cx="547.4" cy="460.7" r="1.6"/>
<circle cx="549.4" cy="462.0" r="1.6"/>
<circle cx="547.9" cy="455.5" r="1.6"/>
<circle cx="550.4" cy="454.7" r="1.6"/>
<circle cx="544.2" cy="433.4" r="1.6"/>
<circle cx="549.7" cy="438.2" r="1.6"/>
<circle cx="558.2" cy="467.8" r="1.6"/>
<circle cx="567.0" cy="449.4" r="1.6"/>
<circle cx="578.8" cy="429.4" r="1.6"/>
<circle cx="579.8" cy="425.1" r="1.6"/>
<circle cx="578.4" cy="428.0" r="1.6"/>
<circle cx="595.6" cy="428.9" r="1.6"/>
<circle cx="609.2" cy="410.0" r="1.6"/>
<circle cx="629.0" cy="408.0" r="1.6"/>
<circle cx="634.5" cy="421.1" r="1.6"/>
<circle cx="639.0" cy="419.8" r="1.6"/>
<circle cx="638.0" cy="428.9" r="1.6"/>
<circle cx="639.8" cy="400.8" r="1.6"/>
<circle cx="658.4" cy="411.0" r="1.6"/>
<circle cx="669.9" cy="440.2" r="1.6"/>
<circle cx="678.5" cy="411.0" r="1.6"/>
<circle cx="620.5" cy="381.2" r="1.6"/>
<circle cx="679.2" cy="397.2" r="1.6"/>
<circle cx="689.8" cy="381.0" r="1.6"/>
<circle cx="704.2" cy="369.6" r="1.6"/>
<circle cx="725.5" cy="324.4" r="1.6"/>
<circle cx="743.6" cy="359.3" r="1.6"/>
<circle cx="758.1" cy="324.4" r="1.6"/>
<circle cx="769.7" cy="338.0" r="1.6"/>
<circle cx="783.7" cy="337.0" r="1.6"/>
<circle cx="778.0" cy="382.4" r="1.6"/>
<circle cx="834.7" cy="321.9" r="1.6"/>
<circle cx="847.0" cy="372.9" r="1.6"/>
</g>
<rect x="815.4" y="293.3" width="57.4" height="12.1" fill="#fff" stroke="#6e6e6e" stroke-width="0.7"/>
<circle cx="829.9" cy="298.4" r="1.5" fill="#111"/>
<text x="869.6" y="301.4" font-size="5.8" fill="#444" text-anchor="end">Total Cost</text>
</svg>
<svg class="abs" style="left:888px;top:40px" width="112" height="487" viewBox="888 40 112 487">
<rect x="890" y="40" width="5" height="487" fill="#f8f8f8"/>
<path d="M892 273 V293.4" stroke="#c2c2c2" stroke-width="1" stroke-dasharray="0.9 1.1"/>
<rect x="895" y="40" width="103.6" height="27" fill="#f8f8f8"/><rect x="895.3" y="66.4" width="103.4" height="433.6" fill="#ffffff"/><path d="M895.3 66.4 V500 H998.6" fill="none" stroke="#d8d8d8" stroke-width="0.8"/>
<rect x="895.7" y="66.4" width="102.9" height="11.6" fill="#f7f7f7"/>
<rect x="895.7" y="78" width="11.4" height="421.6" fill="#f5f5f5"/>
<path d="M907.3 78 V499.6" stroke="#e2e2e2" stroke-width="0.6"/>
<g>
<path d="M909 467.5 H975 V481.5 H909 Z" fill="#ededed"/>
<path d="M947.5 422 L962.8 407.8 L972 445 V468 H934 L944 445 Z" fill="#e9e9e9"/>
<path d="M921 462 H957 V467.5 H921 Z" fill="#f0f0f0"/>
<path d="M915.7 435 L923.4 429.8 L934.4 459.6 L930 461.6 Z" fill="#f1f1f1"/>
<rect x="-37.5" y="-9" width="75" height="18" rx="4.5" ry="4.5" transform="translate(948 406) rotate(-42.6)" fill="#f2f2f2" stroke="#ececec" stroke-width="0.6"/>
</g>
<path d="M894.8 500.4 V524.4 H941.6 L945.4 518.4 V500.4" fill="#ffffff" stroke="#cfcfcf" stroke-width="0.8"/>
<path d="M895 500.4 H945.2" stroke="#ffffff" stroke-width="1.2"/>
<path d="M894.6 524 H942.2 L940.4 526.9 H894.6 Z" fill="#199be4"/>
<rect x="901.6" y="509" width="11" height="10" fill="#4a8af0" stroke="#8a8aa8" stroke-width="0.7"/>
<rect x="902" y="509.4" width="10.2" height="2.4" fill="#dcdcec"/>
<path d="M905.2 509 V519 M908.8 509 V519 M901.6 512 H912.6 M901.6 515.4 H912.6" stroke="#a8c8fa" stroke-width="0.6"/>
<text x="915.4" y="517" font-size="6.3" font-weight="bold" fill="#333" textLength="22.6" lengthAdjust="spacingAndGlyphs">Channel</text>
<path d="M957.2 446.8 H976.8 V506.8 H986.8 L967 526.2 L947.2 506.8 H957.2 Z" fill="#fa4616" stroke="#3a3f8a" stroke-width="0.9" stroke-linejoin="miter"/>
<text x="905" y="55.8" font-size="6.6" fill="#6a6a6a" textLength="29.4" lengthAdjust="spacingAndGlyphs">Response</text>
<rect x="946.4" y="41.2" width="23.4" height="23.4" fill="#d7eefa" stroke="#c4e2f2" stroke-width="0.5"/>
<rect x="953" y="47.8" width="11" height="10.8" fill="#ffffff" stroke="#62629c" stroke-width="1.1"/>
<path d="M956.7 47.8 V58.6 M960.3 47.8 V58.6 M953 51.4 H964 M953 55 H964" stroke="#7878b4" stroke-width="0.85"/>
<path d="M953 58.9 H964.2" stroke="#44447a" stroke-width="1"/>
<circle cx="981" cy="53" r="0.85" fill="#222"/><circle cx="984.4" cy="53" r="0.85" fill="#222"/><circle cx="987.8" cy="53" r="0.85" fill="#222"/>
<path d="M990.2 59.2 H994 L992.1 61.4 Z" fill="#222"/>
</svg>
<div id="rpanel"><table class="resp"><tr><th style="width:10.9px"></th><th>Label</th></tr>
<tr><td class="n">1</td><td class="l"><svg width="12" height="11" viewBox="0 0 12 11"><path d="M1.7 8.4 H4.4 C5.4 8.4 5.6 7.6 6 6.6 L8.5 1.5" stroke="#5876c2" stroke-width="2.3" fill="none" stroke-linecap="round" stroke-linejoin="round"/><path d="M1.9 8.0 H4.3 C5.1 8.0 5.3 7.3 5.7 6.3 L8.1 1.5" stroke="#98acde" stroke-width="0.7" fill="none" stroke-linecap="round"/><path d="M1.1 4.4 L4.9 0.5" stroke="#3a3a3a" stroke-width="0.5" fill="none"/><circle cx="1.1" cy="4.4" r="0.5" fill="#333"/><circle cx="4.9" cy="0.5" r="0.4" fill="#333"/><path d="M8.2 5.8 L10.6 8.5 M10.6 5.8 L8.2 8.5" stroke="#6e6e6e" stroke-width="0.65" fill="none"/></svg><span>Area Top</span></td></tr>
<tr><td class="n">2</td><td class="l"><svg width="12" height="11" viewBox="0 0 12 11"><path d="M1.7 8.4 H4.4 C5.4 8.4 5.6 7.6 6 6.6 L8.5 1.5" stroke="#5876c2" stroke-width="2.3" fill="none" stroke-linecap="round" stroke-linejoin="round"/><path d="M1.9 8.0 H4.3 C5.1 8.0 5.3 7.3 5.7 6.3 L8.1 1.5" stroke="#98acde" stroke-width="0.7" fill="none" stroke-linecap="round"/><path d="M1.1 4.4 L4.9 0.5" stroke="#3a3a3a" stroke-width="0.5" fill="none"/><circle cx="1.1" cy="4.4" r="0.5" fill="#333"/><circle cx="4.9" cy="0.5" r="0.4" fill="#333"/><path d="M8.2 5.8 L10.6 8.5 M10.6 5.8 L8.2 8.5" stroke="#6e6e6e" stroke-width="0.65" fill="none"/></svg><span>Area Top Bot</span></td></tr>
<tr><td class="n">3</td><td class="l"><svg width="12" height="11" viewBox="0 0 12 11"><path d="M1.7 8.4 H4.4 C5.4 8.4 5.6 7.6 6 6.6 L8.5 1.5" stroke="#5876c2" stroke-width="2.3" fill="none" stroke-linecap="round" stroke-linejoin="round"/><path d="M1.9 8.0 H4.3 C5.1 8.0 5.3 7.3 5.7 6.3 L8.1 1.5" stroke="#98acde" stroke-width="0.7" fill="none" stroke-linecap="round"/><path d="M1.1 4.4 L4.9 0.5" stroke="#3a3a3a" stroke-width="0.5" fill="none"/><circle cx="1.1" cy="4.4" r="0.5" fill="#333"/><circle cx="4.9" cy="0.5" r="0.4" fill="#333"/><path d="M8.2 5.8 L10.6 8.5 M10.6 5.8 L8.2 8.5" stroke="#6e6e6e" stroke-width="0.65" fill="none"/></svg><span>Area Side</span></td></tr>
<tr><td class="n">4</td><td class="l"><svg width="12" height="11" viewBox="0 0 12 11"><path d="M1.7 8.4 H4.4 C5.4 8.4 5.6 7.6 6 6.6 L8.5 1.5" stroke="#5876c2" stroke-width="2.3" fill="none" stroke-linecap="round" stroke-linejoin="round"/><path d="M1.9 8.0 H4.3 C5.1 8.0 5.3 7.3 5.7 6.3 L8.1 1.5" stroke="#98acde" stroke-width="0.7" fill="none" stroke-linecap="round"/><path d="M1.1 4.4 L4.9 0.5" stroke="#3a3a3a" stroke-width="0.5" fill="none"/><circle cx="1.1" cy="4.4" r="0.5" fill="#333"/><circle cx="4.9" cy="0.5" r="0.4" fill="#333"/><path d="M8.2 5.8 L10.6 8.5 M10.6 5.8 L8.2 8.5" stroke="#6e6e6e" stroke-width="0.65" fill="none"/></svg><span>Volume</span></td></tr>
<tr><td class="n">5</td><td class="l"><svg width="12" height="11" viewBox="0 0 12 11"><path d="M1.7 8.4 H4.4 C5.4 8.4 5.6 7.6 6 6.6 L8.5 1.5" stroke="#5876c2" stroke-width="2.3" fill="none" stroke-linecap="round" stroke-linejoin="round"/><path d="M1.9 8.0 H4.3 C5.1 8.0 5.3 7.3 5.7 6.3 L8.1 1.5" stroke="#98acde" stroke-width="0.7" fill="none" stroke-linecap="round"/><path d="M1.1 4.4 L4.9 0.5" stroke="#3a3a3a" stroke-width="0.5" fill="none"/><circle cx="1.1" cy="4.4" r="0.5" fill="#333"/><circle cx="4.9" cy="0.5" r="0.4" fill="#333"/><path d="M8.2 5.8 L10.6 8.5 M10.6 5.8 L8.2 8.5" stroke="#6e6e6e" stroke-width="0.65" fill="none"/></svg><span>Material Cost</span></td></tr>
<tr><td class="n">6</td><td class="l"><svg width="12" height="11" viewBox="0 0 12 11"><path d="M1.7 8.4 H4.4 C5.4 8.4 5.6 7.6 6 6.6 L8.5 1.5" stroke="#5876c2" stroke-width="2.3" fill="none" stroke-linecap="round" stroke-linejoin="round"/><path d="M1.9 8.0 H4.3 C5.1 8.0 5.3 7.3 5.7 6.3 L8.1 1.5" stroke="#98acde" stroke-width="0.7" fill="none" stroke-linecap="round"/><path d="M1.1 4.4 L4.9 0.5" stroke="#3a3a3a" stroke-width="0.5" fill="none"/><circle cx="1.1" cy="4.4" r="0.5" fill="#333"/><circle cx="4.9" cy="0.5" r="0.4" fill="#333"/><path d="M8.2 5.8 L10.6 8.5 M10.6 5.8 L8.2 8.5" stroke="#6e6e6e" stroke-width="0.65" fill="none"/></svg><span>Manufacturing Cost</span></td></tr>
<tr class="sel"><td class="n">7</td><td class="l"><svg width="12" height="11" viewBox="0 0 12 11"><path d="M1.7 8.4 H4.4 C5.4 8.4 5.6 7.6 6 6.6 L8.5 1.5" stroke="#5876c2" stroke-width="2.3" fill="none" stroke-linecap="round" stroke-linejoin="round"/><path d="M1.9 8.0 H4.3 C5.1 8.0 5.3 7.3 5.7 6.3 L8.1 1.5" stroke="#98acde" stroke-width="0.7" fill="none" stroke-linecap="round"/><path d="M1.1 4.4 L4.9 0.5" stroke="#3a3a3a" stroke-width="0.5" fill="none"/><circle cx="1.1" cy="4.4" r="0.5" fill="#333"/><circle cx="4.9" cy="0.5" r="0.4" fill="#333"/><path d="M8.2 5.8 L10.6 8.5 M10.6 5.8 L8.2 8.5" stroke="#6e6e6e" stroke-width="0.65" fill="none"/></svg><span>Total Cost</span></td></tr>
<tr><td class="n">8</td><td class="l"><svg width="12" height="11" viewBox="0 0 12 11"><path d="M1.7 8.4 H4.4 C5.4 8.4 5.6 7.6 6 6.6 L8.5 1.5" stroke="#5876c2" stroke-width="2.3" fill="none" stroke-linecap="round" stroke-linejoin="round"/><path d="M1.9 8.0 H4.3 C5.1 8.0 5.3 7.3 5.7 6.3 L8.1 1.5" stroke="#98acde" stroke-width="0.7" fill="none" stroke-linecap="round"/><path d="M1.1 4.4 L4.9 0.5" stroke="#3a3a3a" stroke-width="0.5" fill="none"/><circle cx="1.1" cy="4.4" r="0.5" fill="#333"/><circle cx="4.9" cy="0.5" r="0.4" fill="#333"/><path d="M8.2 5.8 L10.6 8.5 M10.6 5.8 L8.2 8.5" stroke="#6e6e6e" stroke-width="0.65" fill="none"/></svg><span>Styling</span></td></tr>
</table></div>
<div id="status">
<span style="left:3px">/Beverage Can/DOE 1/Post-Processing</span>
<i style="left:813px"></i><span style="left:816.4px">Rows #, Cols #</span>
<i style="left:859px"></i><span style="left:864px">Errors: 0&nbsp; Warnings: 3</span>
<i style="left:926px"></i><span style="left:930px">Profile: Post-Processing</span>
<i style="left:997px"></i>
</div>
<div class="abs" style="left:0;top:0;width:1000px;height:0.9px;background:#555"></div>
<div class="abs" style="left:0;top:0;width:1.3px;height:542px;background:#585858"></div>
<div class="abs" style="left:998.6px;top:0;width:1.4px;height:542px;background:#5a5a5a"></div>
<div class="abs" style="left:0;top:540.6px;width:1000px;height:1.4px;background:#555"></div>
</div></body></html>
